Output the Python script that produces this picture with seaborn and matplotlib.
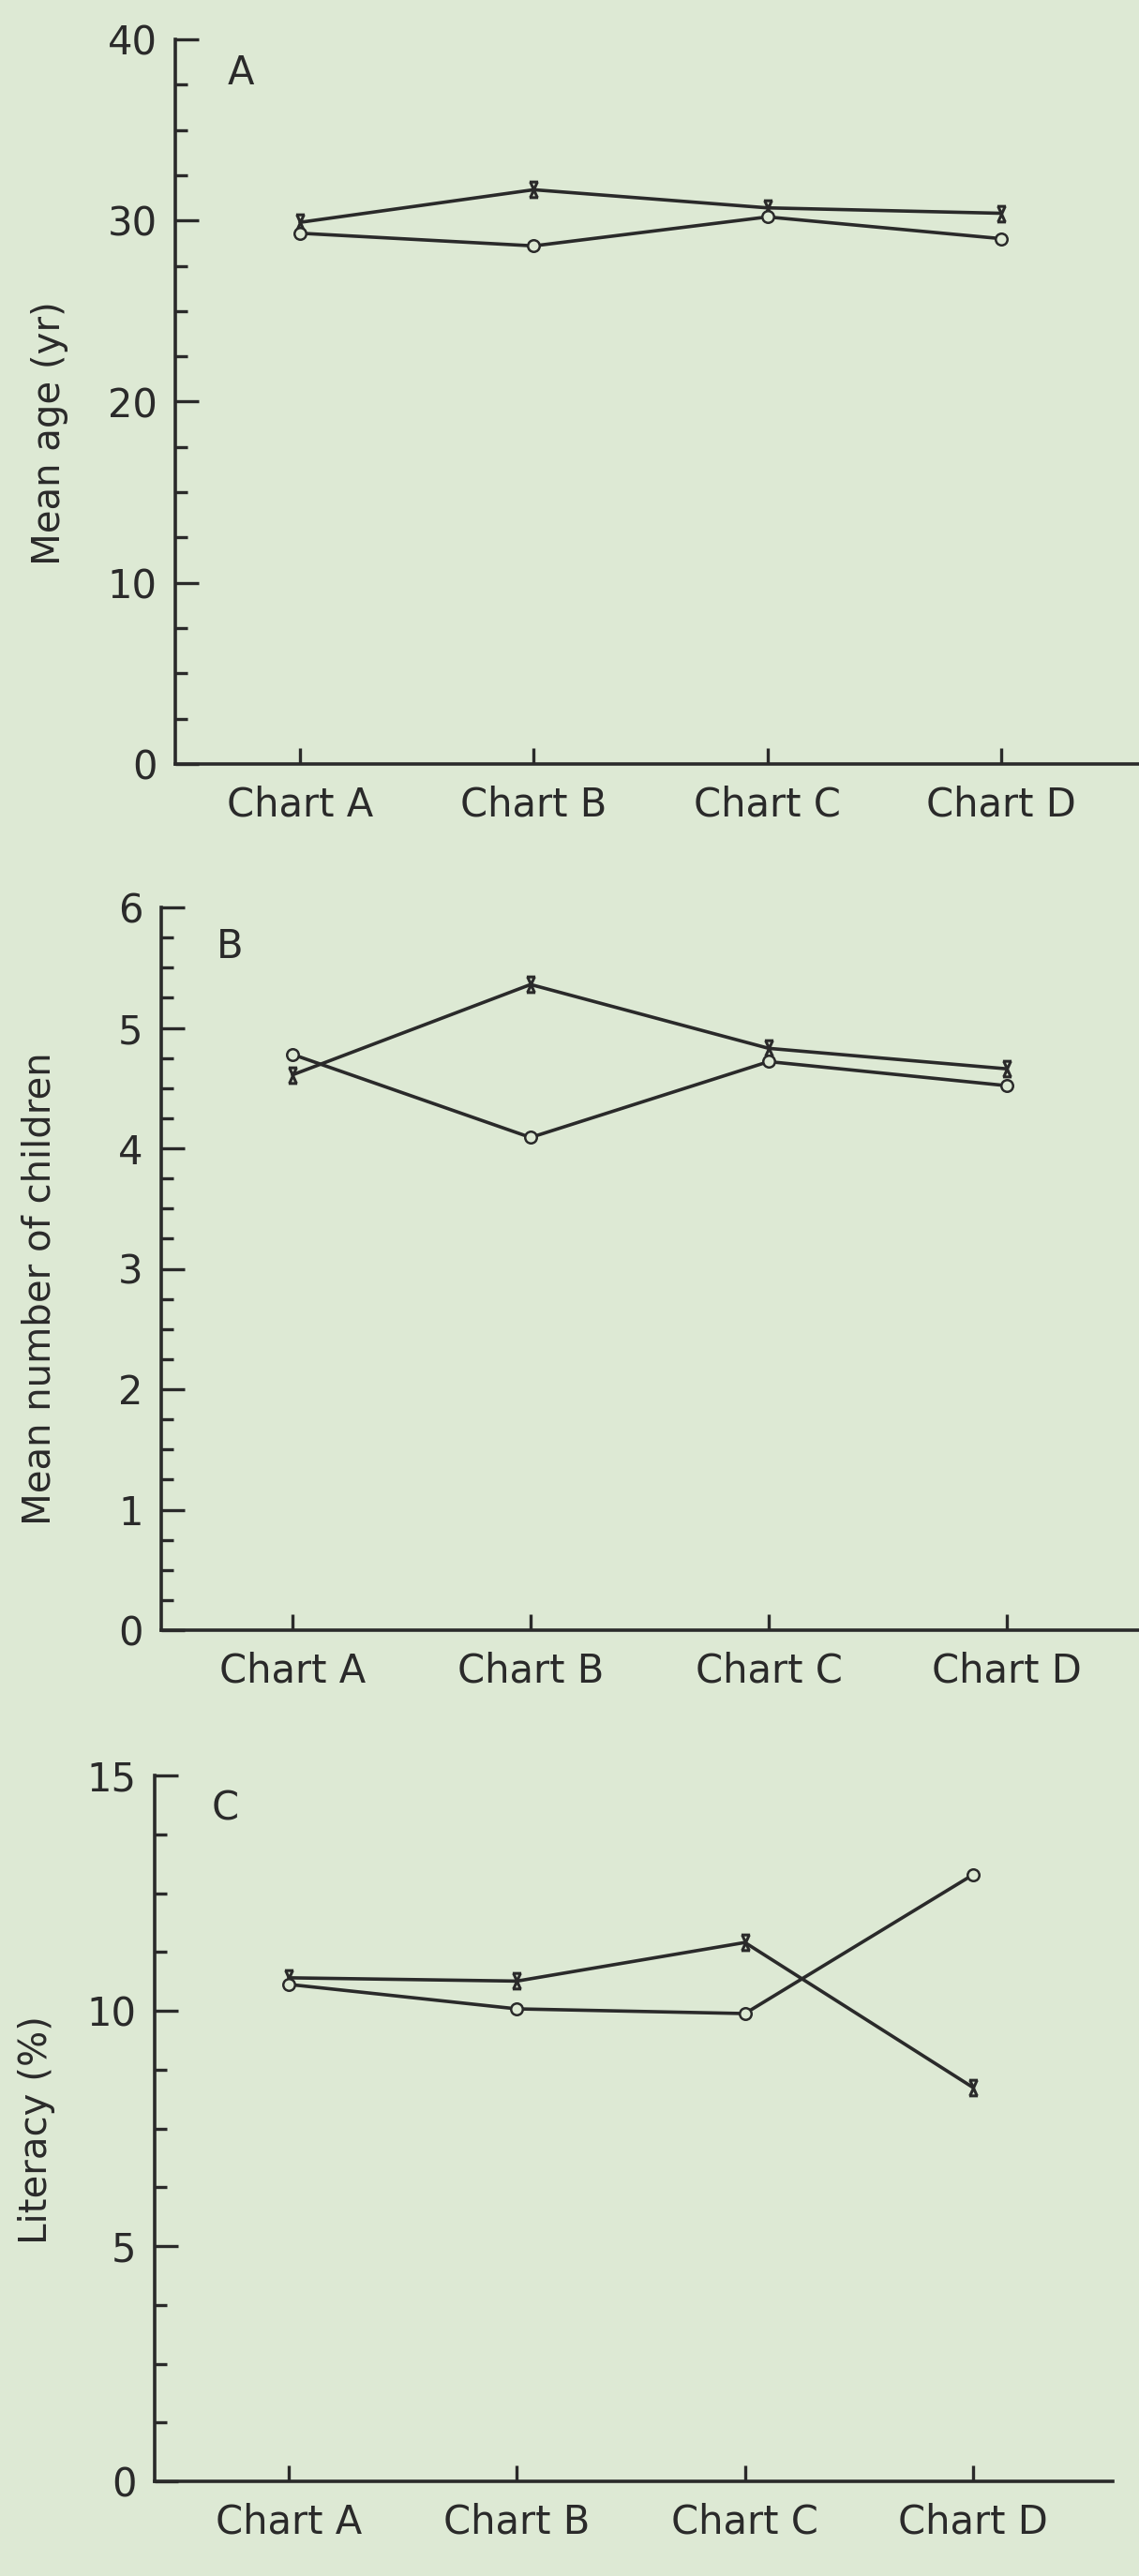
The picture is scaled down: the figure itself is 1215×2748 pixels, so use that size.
import matplotlib
matplotlib.use("Agg")
import matplotlib.pyplot as plt
from matplotlib.path import Path
from matplotlib.ticker import MultipleLocator, FormatStrFormatter
import pandas as pd
import seaborn as sns

# ---- data -------------------------------------------------------------
categories = ["Chart A", "Chart B", "Chart C", "Chart D"]

age_x = [29.9, 31.7, 30.7, 30.4]
age_o = [29.3, 28.6, 30.2, 29.0]

children_x = [4.61, 5.36, 4.83, 4.66]
children_o = [4.78, 4.09, 4.72, 4.52]

literacy_x = [10.70, 10.63, 11.45, 8.37]
literacy_o = [10.56, 10.04, 9.94, 12.89]

panel_letters = ["A", "B", "C"]
y_titles = ["Mean age (yr)", "Mean number of children", "Literacy (%)"]
y_max = [40, 6, 15]
y_major = [10, 1, 5]
y_minor = [2.5, 0.25, 1.25]

# ---- style ------------------------------------------------------------
BG = "#dde9d4"
INK = "#2a2a2a"

sns.set_style("ticks")
plt.rcParams["font.family"] = ["DejaVu Sans"]
plt.rcParams["text.color"] = INK
plt.rcParams["axes.labelcolor"] = INK
plt.rcParams["xtick.color"] = INK
plt.rcParams["ytick.color"] = INK

W, H = 1215, 2748
fig = plt.figure(figsize=(W / 100, H / 100), dpi=100, facecolor=BG)

# panel geometry in pixels: left, right, top, bottom, first-category x, spacing
geometry = [
    (187, 1215, 42, 815, 320, 249.3),
    (172, 1215, 968, 1739, 312, 254.0),
    (165, 1187, 1894, 2647, 308, 243.3),
]
ylabel_pos = [(53, 462), (43, 1375), (39, 2272)]
letter_pos = [(257, 78), (245, 1010), (240, 1930)]

# hourglass-shaped cross used for the first series
hourglass = Path(
    [(-0.55, 1), (0.55, 1), (-0.55, -1), (0.55, -1),
     (-0.45, 1), (0.45, -1), (0.45, 1), (-0.45, -1)],
    [Path.MOVETO, Path.LINETO] * 4,
)

series = [(age_x, age_o), (children_x, children_o), (literacy_x, literacy_o)]

for i, (sx, so) in enumerate(series):
    left, right, top, bottom, c0, sp = geometry[i]
    ax = fig.add_axes([left / W, 1 - bottom / H, (right - left) / W, (bottom - top) / H])
    ax.set_facecolor(BG)

    df_x = pd.DataFrame({"chart": categories, "value": sx})
    df_o = pd.DataFrame({"chart": categories, "value": so})

    sns.lineplot(data=df_x, x="chart", y="value", ax=ax, sort=False,
                 color=INK, lw=2.6, marker=hourglass, markersize=12,
                 markeredgecolor=INK, markerfacecolor="none", markeredgewidth=2.2)
    sns.lineplot(data=df_o, x="chart", y="value", ax=ax, sort=False,
                 color=INK, lw=2.6, marker="o", markersize=9,
                 markeredgecolor=INK, markerfacecolor=BG, markeredgewidth=1.8)

    x_lo = -(c0 - left) / sp
    x_hi = 3 + (right - (c0 + 3 * sp)) / sp
    ax.set_xlim(x_lo, x_hi)
    ax.set_ylim(0, y_max[i])

    ax.yaxis.set_major_locator(MultipleLocator(y_major[i]))
    ax.yaxis.set_minor_locator(MultipleLocator(y_minor[i]))
    ax.yaxis.set_major_formatter(FormatStrFormatter("%d"))

    for side in ("top", "right"):
        ax.spines[side].set_visible(False)
    for side in ("left", "bottom"):
        ax.spines[side].set_linewidth(2.6)
        ax.spines[side].set_color(INK)

    ax.tick_params(axis="y", which="major", direction="in", length=18, width=2.4,
                   labelsize=30, pad=14)
    ax.tick_params(axis="y", which="minor", direction="in", length=9, width=2.4)
    ax.tick_params(axis="x", which="major", direction="in", length=12, width=2.4,
                   labelsize=30, pad=16)
    ax.set_xlabel("")
    ax.set_ylabel("")

    fig.text(ylabel_pos[i][0] / W, 1 - ylabel_pos[i][1] / H, y_titles[i],
             rotation=90, ha="center", va="center", fontsize=29)
    fig.text(letter_pos[i][0] / W, 1 - letter_pos[i][1] / H, panel_letters[i],
             ha="center", va="center", fontsize=30)

fig.savefig("out.png", dpi=100, facecolor=BG)
